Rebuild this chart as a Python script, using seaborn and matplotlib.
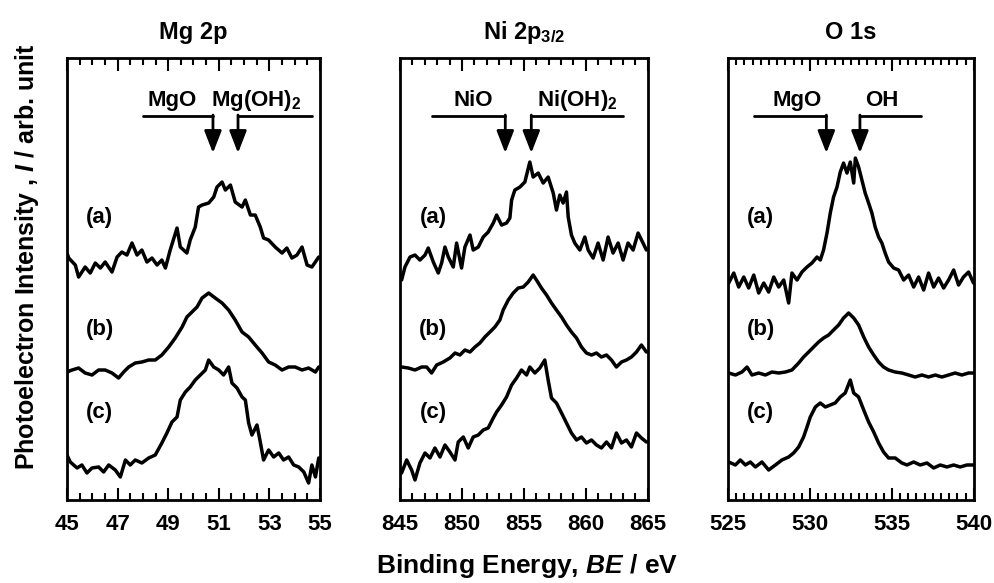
import matplotlib
matplotlib.use("Agg")
import matplotlib.pyplot as plt
from matplotlib.ticker import MultipleLocator
import pandas as pd
import seaborn as sns

# Mg 2p spectra (binding energy / eV, intensity / arb.)
mg_a_be = [45.0, 45.07, 45.33, 45.46, 45.72, 45.92, 46.12, 46.32, 46.51, 46.78, 46.98, 47.17, 47.37, 47.57, 47.77,
           47.96, 48.16, 48.36, 48.56, 48.75, 48.89, 49.08, 49.35, 49.48, 49.74, 49.87, 50.07, 50.20, 50.34, 50.60,
           50.80, 50.93, 51.13, 51.26, 51.46, 51.65, 51.92, 52.05, 52.25, 52.44, 52.64, 52.77, 52.97, 53.23, 53.50,
           53.69, 53.89, 54.09, 54.29, 54.49, 54.68, 54.95]
mg_a_int = [247, 242, 235, 223, 233, 227, 237, 232, 238, 228, 243, 248, 245, 257, 245, 250, 238, 242, 235, 240, 232,
            250, 272, 253, 247, 260, 273, 293, 295, 297, 303, 313, 318, 310, 315, 298, 293, 300, 285, 285, 273, 262,
            260, 253, 247, 252, 242, 245, 253, 235, 233, 243]
mg_b_be = [45.0, 45.20, 45.46, 45.72, 45.99, 46.25, 46.51, 46.78, 47.04, 47.24, 47.44, 47.70, 47.96, 48.23, 48.49,
           48.75, 49.02, 49.28, 49.55, 49.74, 49.94, 50.14, 50.34, 50.60, 50.86, 51.13, 51.39, 51.65, 51.92, 52.18,
           52.44, 52.71, 52.97, 53.23, 53.50, 53.76, 54.02, 54.29, 54.55, 54.82, 54.95]
mg_b_int = [128, 130, 132, 127, 125, 130, 130, 127, 122, 128, 133, 137, 138, 140, 140, 145, 153, 162, 173, 183, 188,
            193, 202, 207, 202, 197, 190, 180, 168, 163, 155, 147, 138, 135, 130, 133, 133, 130, 132, 128, 133]
mg_c_be = [45.0, 45.13, 45.40, 45.59, 45.79, 45.99, 46.25, 46.45, 46.65, 46.91, 47.11, 47.31, 47.50, 47.70, 47.96,
           48.23, 48.49, 48.75, 48.95, 49.15, 49.35, 49.48, 49.68, 49.87, 50.07, 50.27, 50.47, 50.60, 50.80, 51.0,
           51.19, 51.39, 51.52, 51.72, 51.92, 52.05, 52.18, 52.31, 52.51, 52.64, 52.77, 52.97, 53.17, 53.37, 53.56,
           53.76, 53.96, 54.16, 54.36, 54.55, 54.68, 54.82, 54.95]
mg_c_int = [45, 38, 32, 35, 27, 32, 33, 28, 35, 30, 23, 40, 35, 40, 37, 42, 45, 57, 67, 78, 83, 100, 108, 113, 120,
            125, 130, 140, 133, 130, 125, 133, 117, 112, 103, 100, 77, 65, 75, 58, 40, 50, 43, 47, 40, 43, 35, 33, 28,
            17, 35, 23, 42]

# Ni 2p3/2 spectra
ni_a_be = [845.13, 845.40, 845.81, 846.21, 846.61, 847.02, 847.28, 847.69, 848.09, 848.36, 848.63, 848.90, 849.30,
           849.57, 849.97, 850.24, 850.65, 850.91, 851.32, 851.72, 852.12, 852.53, 852.80, 853.20, 853.60, 853.87,
           854.01, 854.27, 854.68, 855.08, 855.48, 855.75, 856.16, 856.56, 856.96, 857.37, 857.63, 857.90, 858.17,
           858.44, 858.58, 858.84, 859.11, 859.52, 859.92, 860.19, 860.59, 860.99, 861.40, 861.80, 862.20, 862.61,
           863.01, 863.41, 863.82, 864.22, 864.62, 864.89]
ni_a_int = [220, 233, 243, 245, 240, 245, 252, 238, 227, 237, 253, 243, 233, 257, 232, 253, 265, 250, 253, 263, 268,
            277, 285, 275, 277, 282, 300, 310, 313, 318, 338, 323, 327, 317, 323, 307, 290, 305, 297, 308, 283, 265,
            257, 250, 263, 250, 242, 257, 240, 263, 247, 257, 240, 257, 250, 267, 257, 250]
ni_b_be = [845.13, 845.67, 846.21, 846.75, 847.15, 847.55, 847.96, 848.49, 849.03, 849.44, 849.84, 850.24, 850.65,
           851.05, 851.45, 851.85, 852.26, 852.66, 853.06, 853.33, 853.74, 854.14, 854.54, 854.95, 855.35, 855.75,
           856.02, 856.42, 856.83, 857.23, 857.63, 858.04, 858.44, 858.84, 859.25, 859.65, 860.05, 860.46, 860.86,
           861.26, 861.67, 862.07, 862.47, 862.88, 863.28, 863.68, 864.09, 864.49, 864.89]
ni_b_int = [133, 132, 130, 133, 133, 127, 135, 138, 142, 147, 145, 150, 148, 153, 157, 163, 168, 173, 180, 190, 200,
            207, 212, 213, 218, 225, 220, 212, 205, 197, 190, 183, 175, 168, 162, 153, 147, 145, 147, 143, 145, 140,
            133, 138, 140, 143, 148, 155, 148]
ni_c_be = [845.13, 845.54, 845.94, 846.21, 846.61, 847.02, 847.42, 847.82, 848.23, 848.63, 849.03, 849.44, 849.70,
           850.11, 850.51, 850.91, 851.32, 851.72, 852.12, 852.53, 852.80, 853.20, 853.60, 854.01, 854.41, 854.81,
           855.22, 855.48, 855.89, 856.29, 856.69, 856.96, 857.23, 857.63, 858.04, 858.44, 858.84, 859.25, 859.65,
           860.05, 860.46, 860.86, 861.26, 861.67, 862.07, 862.47, 862.88, 863.28, 863.68, 864.09, 864.49, 864.89]
ni_c_int = [27, 40, 30, 20, 37, 47, 42, 52, 43, 55, 48, 40, 58, 63, 52, 63, 65, 70, 72, 82, 88, 95, 103, 115, 122,
            130, 125, 133, 127, 132, 140, 120, 102, 97, 87, 77, 67, 60, 63, 57, 60, 55, 52, 58, 52, 67, 57, 60, 53, 67,
            62, 58]

# O 1s spectra
o_a_be = [525.04, 525.35, 525.65, 525.96, 526.26, 526.57, 526.87, 527.18, 527.48, 527.79, 528.09, 528.40, 528.70,
          528.90, 529.21, 529.51, 529.82, 530.12, 530.43, 530.63, 530.83, 531.04, 531.24, 531.44, 531.65, 531.85,
          532.05, 532.26, 532.46, 532.67, 532.77, 532.97, 533.17, 533.37, 533.58, 533.78, 533.98, 534.19, 534.39,
          534.59, 534.80, 535.11, 535.41, 535.72, 536.02, 536.33, 536.63, 536.94, 537.24, 537.55, 537.85, 538.16,
          538.46, 538.77, 539.07, 539.37, 539.68, 539.98]
o_a_int = [217, 227, 213, 223, 212, 225, 207, 217, 208, 223, 213, 220, 197, 227, 220, 228, 233, 237, 243, 240, 250,
           267, 287, 303, 313, 328, 337, 327, 338, 317, 342, 333, 320, 307, 297, 287, 273, 263, 257, 247, 238, 232,
           230, 220, 225, 213, 223, 210, 227, 213, 222, 212, 220, 230, 215, 223, 228, 217]
o_b_be = [525.04, 525.45, 525.85, 526.16, 526.46, 526.87, 527.28, 527.68, 528.09, 528.50, 528.90, 529.31, 529.61,
          529.92, 530.22, 530.53, 530.83, 531.14, 531.44, 531.75, 532.05, 532.36, 532.67, 532.97, 533.28, 533.58,
          533.89, 534.19, 534.49, 534.80, 535.20, 535.61, 536.02, 536.42, 536.83, 537.24, 537.65, 538.05, 538.46,
          538.86, 539.27, 539.68, 539.98]
o_b_int = [127, 125, 128, 133, 125, 127, 125, 128, 127, 128, 130, 137, 143, 148, 153, 158, 162, 165, 170, 175, 182,
           187, 182, 175, 163, 153, 145, 138, 133, 130, 128, 127, 125, 123, 125, 123, 125, 123, 125, 127, 125, 127,
           127]
o_c_be = [525.04, 525.45, 525.75, 526.06, 526.36, 526.67, 527.07, 527.48, 527.89, 528.29, 528.70, 529.00, 529.31,
          529.61, 529.82, 530.02, 530.33, 530.63, 530.94, 531.24, 531.54, 531.85, 532.15, 532.46, 532.67, 532.97,
          533.28, 533.58, 533.89, 534.19, 534.49, 534.80, 535.20, 535.61, 535.92, 536.33, 536.73, 537.14, 537.55,
          537.95, 538.36, 538.77, 539.17, 539.58, 539.98]
o_c_int = [38, 35, 40, 35, 38, 33, 38, 30, 35, 40, 43, 47, 53, 63, 73, 83, 93, 97, 93, 95, 97, 103, 107, 120, 107,
           103, 90, 78, 68, 57, 48, 42, 42, 37, 35, 38, 35, 37, 32, 35, 33, 35, 33, 35, 35]

titles = ["Mg 2p", "Ni 2p$_\\mathrm{3/2}$", "O 1s"]
xlims = [(45, 55), (845, 865), (525, 540)]
xticks = [[45, 47, 49, 51, 53, 55], [845, 850, 855, 860, 865], [525, 530, 535, 540]]
minor_steps = [0.5, 1, 0.5]

# peak markers: (label, label x, bracket start, arrow x)
markers = [
    [("MgO", 49.15, 48.0, 50.77), ("Mg(OH)$_\\mathrm{2}$", 52.5, 54.68, 51.76)],
    [("NiO", 850.9, 847.6, 853.5), ("Ni(OH)$_\\mathrm{2}$", 859.3, 863.0, 855.6)],
    [("MgO", 529.2, 526.6, 531.0), ("OH", 534.4, 536.8, 533.05)],
]
label_x = [46.3, 847.7, 527.0]
label_y = [283, 171, 87]

spectra = [
    [(mg_a_be, mg_a_int), (mg_b_be, mg_b_int), (mg_c_be, mg_c_int)],
    [(ni_a_be, ni_a_int), (ni_b_be, ni_b_int), (ni_c_be, ni_c_int)],
    [(o_a_be, o_a_int), (o_b_be, o_b_int), (o_c_be, o_c_int)],
]

sns.set_theme(style="ticks")
plt.rcParams["font.family"] = ["Liberation Sans", "DejaVu Sans"]
plt.rcParams["font.weight"] = "bold"
plt.rcParams["text.color"] = "black"
plt.rcParams["xtick.color"] = "black"
plt.rcParams["axes.labelcolor"] = "black"
plt.rcParams["mathtext.fontset"] = "custom"
plt.rcParams["mathtext.rm"] = "Liberation Sans:bold"
plt.rcParams["mathtext.it"] = "Liberation Sans:italic:bold"
plt.rcParams["mathtext.bf"] = "Liberation Sans:bold"

fig = plt.figure(figsize=(9.95, 5.83), dpi=100)
lefts = [0.0673, 0.402, 0.7317]
widths = [0.2543, 0.249, 0.247]

for i in range(3):
    ax = fig.add_axes([lefts[i], 0.1424, widths[i], 0.758])
    for be, inten in spectra[i]:
        df = pd.DataFrame({"BE": be, "I": inten})
        sns.lineplot(data=df, x="BE", y="I", ax=ax, color="black", lw=2.5,
                     sort=False, estimator=None)
    for lab, y in zip(["(a)", "(b)", "(c)"], label_y):
        ax.text(label_x[i], y, lab, fontsize=16, fontweight="bold", ha="center", va="center")
    for name, tx, x0, xa in markers[i]:
        ax.text(tx, 400, name, fontsize=16, fontweight="bold", ha="center", va="center")
        ax.plot([x0, xa], [384, 384], color="black", lw=2)
        ax.annotate("", xy=(xa, 347), xytext=(xa, 385),
                    arrowprops=dict(arrowstyle="-|>,head_length=0.9,head_width=0.35",
                                    color="black", lw=2, shrinkA=0, shrinkB=0,
                                    mutation_scale=15))
    ax.set_xlim(*xlims[i])
    ax.set_ylim(0, 442)
    ax.set_xticks(xticks[i])
    ax.xaxis.set_minor_locator(MultipleLocator(minor_steps[i]))
    ax.set_yticks([])
    ax.tick_params(axis="x", which="both", direction="in", top=True, width=1.5,
                   labelsize=16, pad=10, colors="black")
    ax.tick_params(axis="x", which="major", length=9)
    ax.tick_params(axis="x", which="minor", length=5)
    for lbl in ax.get_xticklabels():
        lbl.set_fontweight("bold")
    for sp in ax.spines.values():
        sp.set_linewidth(2)
        sp.set_color("black")
    ax.set_xlabel("")
    ax.set_ylabel("")
    ax.set_title(titles[i], fontsize=17, fontweight="bold", pad=14, color="black")

fig.text(0.53, 0.03, "Binding Energy, $\\mathit{BE}$ / eV", fontsize=19, fontweight="bold",
         ha="center", va="center")
fig.text(0.027, 0.56, "Photoelectron Intensity , $\\mathit{I}$ / arb. unit", fontsize=18,
         fontweight="bold", ha="center", va="center", rotation=90)

fig.savefig("out.png", dpi=100)
